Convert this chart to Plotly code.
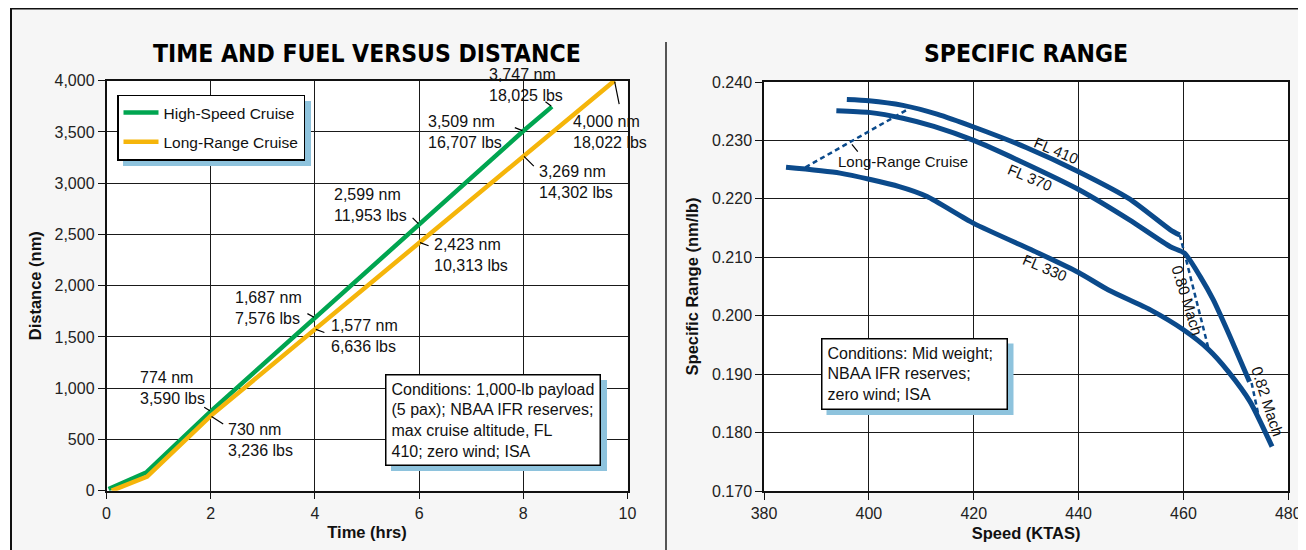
import plotly.graph_objects as go

# page offset: the figure sits 8px inside the page (default body margin)
OFF = 8
W, H = 1306 - OFF, 550 - OFF

# ---------------- data ----------------
# Time and fuel versus distance
hsc_time = [0.04, 0.77, 2, 4, 6, 8, 8.55]
hsc_dist = [15, 180, 774, 1687, 2599, 3509, 3747]
lrc_time = [0.1, 0.78, 2, 4, 6, 8, 9.75]
lrc_dist = [0, 137, 730, 1577, 2423, 3269, 4000]

hsc_labels = {2: ("774 nm", "3,590 lbs"), 3: ("1,687 nm", "7,576 lbs"),
              4: ("2,599 nm", "11,953 lbs"), 5: ("3,509 nm", "16,707 lbs"),
              6: ("3,747 nm", "18,025 lbs")}
lrc_labels = {2: ("730 nm", "3,236 lbs"), 3: ("1,577 nm", "6,636 lbs"),
              4: ("2,423 nm", "10,313 lbs"), 5: ("3,269 nm", "14,302 lbs"),
              6: ("4,000 nm", "18,022 lbs")}

# Specific range
fl410_speed = [395.8, 400, 406.5, 413, 420.0, 430, 439.9, 449.7, 457.5, 459.3]
fl410_sr = [0.2370, 0.2368, 0.2360, 0.2345, 0.2323, 0.2288, 0.2247, 0.2200, 0.2147, 0.2138]
fl370_speed = [393.8, 400, 406.5, 412.4, 420.0, 429.7, 440.0, 449.7, 457.5, 460.2,
               463.2, 465.7, 468.9, 472.6]
fl370_sr = [0.2351, 0.2348, 0.2338, 0.2324, 0.2300, 0.2261, 0.2216, 0.2164, 0.2118, 0.2107,
            0.2067, 0.2027, 0.1964, 0.1887]
fl330_speed = [384.2, 394.5, 405.8, 411.1, 420.0, 432.4, 440.0, 445.7, 453.7, 460.0,
               464.8, 468.6, 472.7, 476.9]
fl330_sr = [0.2254, 0.2244, 0.2221, 0.2204, 0.2158, 0.2107, 0.2074, 0.2044, 0.2010, 0.1976,
            0.1942, 0.1904, 0.1853, 0.1776]
lrc_line_speed = [387.9, 407.2]
lrc_line_sr = [0.2254, 0.2352]
m080_speed = [459.3, 460.2, 464.8]
m080_sr = [0.2138, 0.2107, 0.1943]
m082_speed = [473.0, 474.4]
m082_sr = [0.1885, 0.1826]

x_ticks_left = [0, 2, 4, 6, 8, 10]
y_ticks_left = [0, 500, 1000, 1500, 2000, 2500, 3000, 3500, 4000]
x_ticks_right = [380, 400, 420, 440, 460, 480]
y_ticks_right = [0.170, 0.180, 0.190, 0.200, 0.210, 0.220, 0.230, 0.240]

# ---------------- style ----------------
GREEN = "#00a550"
GOLD = "#f5b50a"
BLUE = "#0b4a8b"
SHADOW = "#8ec3dd"
BG = "#f6f6f6"
FONT = "Liberation Sans, Arial, sans-serif"
TFONT = "DejaVu Sans Condensed, DejaVu Sans, sans-serif"

def px(x):
    return (x - OFF) / W

def py(y):
    return 1 - (y - OFF) / H

fig = go.Figure()

fig.add_trace(go.Scatter(x=hsc_time, y=hsc_dist, mode="lines", name="High-Speed Cruise",
                         line=dict(color=GREEN, width=4.5), legendgroup="a",
                         xaxis="x", yaxis="y"))
fig.add_trace(go.Scatter(x=lrc_time, y=lrc_dist, mode="lines", name="Long-Range Cruise",
                         line=dict(color=GOLD, width=4.5), legendgroup="b",
                         xaxis="x", yaxis="y"))

for sx, sy in [(fl410_speed, fl410_sr), (fl370_speed, fl370_sr), (fl330_speed, fl330_sr)]:
    fig.add_trace(go.Scatter(x=sx, y=sy, mode="lines", showlegend=False,
                             line=dict(color=BLUE, width=5, shape="spline", smoothing=0.6),
                             xaxis="x2", yaxis="y2"))
for sx, sy in [(lrc_line_speed, lrc_line_sr), (m080_speed, m080_sr), (m082_speed, m082_sr)]:
    fig.add_trace(go.Scatter(x=sx, y=sy, mode="lines", showlegend=False,
                             line=dict(color=BLUE, width=2.5, dash="5px,3.5px"),
                             xaxis="x2", yaxis="y2"))

annotations = []

# callouts on left chart: (leader tail dx, dy), (text xshift, yshift)
hsc_offsets = {2: ((-8, -5), (-72, 23)), 3: ((-9, -5), (-81, 9.5)),
               4: ((-8, -8), (-86, 19)), 5: ((-10, -4), (-96, -1)),
               6: ((-8, -6), (-64, 22))}
lrc_offsets = {2: ((14, 9), (16, -24)), 3: ((11, 4), (15, -6.5)),
               4: ((11, 4), (13.5, -12.7)), 5: ((12, 12), (15, -26)),
               6: ((5, 25), (-42, -51))}

for times, dists, labels, offs in [(hsc_time, hsc_dist, hsc_labels, hsc_offsets),
                                    (lrc_time, lrc_dist, lrc_labels, lrc_offsets)]:
    for i, (l1, l2) in labels.items():
        (ax, ay), (xs, ys) = offs[i]
        annotations.append(dict(x=times[i], y=dists[i], xref="x", yref="y", text="",
                                showarrow=True, arrowhead=0, arrowwidth=1.2, arrowcolor="black",
                                ax=ax, ay=ay, standoff=1))
        annotations.append(dict(x=times[i], y=dists[i], xref="x", yref="y",
                                text=l1 + "<br>" + l2, showarrow=False, align="left",
                                xanchor="left", yanchor="middle", xshift=xs, yshift=ys,
                                borderpad=0,
                                font=dict(family=FONT, size=16, color="#111")))

shapes = []

# conditions boxes; the blue drop shadow is a rectangle behind each box
def cond_box(text, x, y, w, h):
    shapes.append(dict(type="rect", xref="paper", yref="paper", layer="above",
                       x0=px(x + 6), x1=px(x + w + 6), y0=py(y + h + 6), y1=py(y + 6),
                       fillcolor=SHADOW, line=dict(width=0)))
    annotations.append(dict(
        x=px(x), y=py(y), xref="paper", yref="paper", xanchor="left", yanchor="top",
        text=text, showarrow=False, align="left",
        font=dict(family=FONT, size=16, color="#111"),
        bgcolor="white", bordercolor="black", borderwidth=1.5, borderpad=5))

cond_box("Conditions: 1,000-lb payload<br>(5 pax); NBAA IFR reserves;<br>"
         "max cruise altitude, FL<br>410; zero wind; ISA", 385, 374, 216, 91)
cond_box("Conditions: Mid weight;&nbsp;&nbsp;<br>NBAA IFR reserves;<br>zero wind; ISA",
         820.5, 337.5, 187, 71.5)

# curve labels, right chart
def curve_label(text, x, y, ang, size):
    annotations.append(dict(x=x, y=y, xref="x2", yref="y2", text=text, showarrow=False,
                            textangle=ang, font=dict(family=FONT, size=size, color="#111")))

curve_label("FL 410", 435.7, 0.2282, 23, 15)
curve_label("FL 370", 430.8, 0.2237, 23, 15)
curve_label("FL 330", 433.5, 0.2083, 23, 15)
curve_label("0.80 Mach", 460.6, 0.2027, 73, 15.5)
curve_label("0.82 Mach", 476.0, 0.1853, 72, 15.5)

# Long-Range Cruise label with leader
lrc_pt_speed = 396.4
lrc_pt_sr = lrc_line_sr[0] + (lrc_pt_speed - lrc_line_speed[0]) * (
    (lrc_line_sr[1] - lrc_line_sr[0]) / (lrc_line_speed[1] - lrc_line_speed[0]))
annotations.append(dict(x=lrc_pt_speed, y=lrc_pt_sr, xref="x2", yref="y2", text="",
                        showarrow=True, arrowhead=0, arrowwidth=1.2, arrowcolor="black",
                        ax=9, ay=11, standoff=3))
annotations.append(dict(x=lrc_pt_speed, y=lrc_pt_sr, xref="x2", yref="y2",
                        text="Long-Range Cruise", showarrow=False, xanchor="left",
                        yanchor="middle", xshift=-14, yshift=-19,
                        font=dict(family=FONT, size=15, color="#111")))

# titles
annotations.append(dict(x=px(367), y=py(54), xref="paper", yref="paper",
                        xanchor="center", yanchor="middle", borderpad=0,
                        text="<b>TIME AND FUEL VERSUS DISTANCE</b>", showarrow=False,
                        font=dict(family=TFONT, size=24.5, color="black")))
annotations.append(dict(x=px(1026), y=py(54), xref="paper", yref="paper",
                        xanchor="center", yanchor="middle", borderpad=0,
                        text="<b>SPECIFIC RANGE</b>", showarrow=False,
                        font=dict(family=TFONT, size=24.5, color="black")))

shapes += [
    # white strip left of the frame
    dict(type="rect", xref="paper", yref="paper", x0=0, x1=px(10), y0=0, y1=1,
         fillcolor="white", line=dict(width=0), layer="below"),
    # frame lines
    dict(type="line", xref="paper", yref="paper", x0=px(10), x1=1, y0=py(8.5), y1=py(8.5),
         line=dict(color="#111", width=2)),
    dict(type="line", xref="paper", yref="paper", x0=px(11), x1=px(11), y0=py(8), y1=0,
         line=dict(color="#111", width=2)),
    # divider
    dict(type="line", xref="paper", yref="paper", x0=px(666), x1=px(666), y0=py(42), y1=0,
         line=dict(color="#555", width=2)),
    # legend shadow
    dict(type="rect", xref="paper", yref="paper", x0=px(123), x1=px(311), y0=py(166),
         y1=py(101), fillcolor=SHADOW, line=dict(width=0), layer="above"),
]

axis_common = dict(showgrid=True, gridcolor="#1a1a1a", gridwidth=1.3, showline=True,
                   mirror=True, linecolor="#111", linewidth=1.5, ticks="outside",
                   ticklen=7, tickwidth=1.3, tickcolor="#111", zeroline=False,
                   automargin=False,
                   tickfont=dict(family=FONT, size=16, color="#222"))
title_font = dict(family=FONT, size=16.5, color="#111", weight="bold")

fig.update_layout(
    width=W, height=H, margin=dict(l=0, r=0, t=0, b=0, pad=0, autoexpand=False),
    paper_bgcolor=BG, plot_bgcolor="white",
    xaxis=dict(domain=[px(106.5), px(627.5)], range=[0, 10], tickvals=x_ticks_left,
               title=dict(text="Time (hrs)", font=title_font, standoff=6),
               anchor="y", **axis_common),
    yaxis=dict(domain=[py(490.7), py(80.7)], range=[0, 4000], tickvals=y_ticks_left,
               tickformat=",", title=dict(text="Distance (nm)", font=title_font, standoff=9),
               anchor="x", **axis_common),
    xaxis2=dict(domain=[px(764), px(1288.3)], range=[380, 480], tickvals=x_ticks_right,
                title=dict(text="Speed (KTAS)", font=title_font, standoff=6),
                anchor="y2", **axis_common),
    yaxis2=dict(domain=[py(491), py(82)], range=[0.170, 0.240], tickvals=y_ticks_right,
                tickformat=".3f",
                title=dict(text="Specific Range (nm/lb)", font=title_font, standoff=9),
                anchor="x2", **axis_common),
    legend=dict(x=px(117), y=py(94.5), xanchor="left", yanchor="top",
                bgcolor="white", bordercolor="black", borderwidth=1.5,
                font=dict(family=FONT, size=15.5, color="#111"), tracegroupgap=6,
                itemwidth=35),
    annotations=annotations,
    shapes=shapes,
)

fig.write_html("out.html")
